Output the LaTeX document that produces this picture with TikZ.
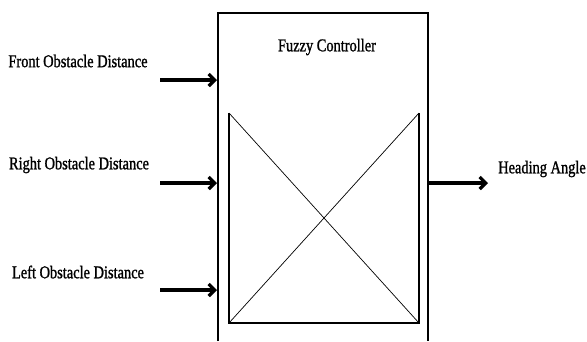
\documentclass[tikz,border=0pt]{standalone}
\usepackage{fontspec}
\setmainfont{Liberation Serif}[FakeStretch=0.8,FakeBold=1.2]
\usetikzlibrary{arrows.meta}

\begin{document}
\begin{tikzpicture}[x=1pt,y=-1pt,
		lbl/.style={font=\fontsize{18}{20}\selectfont,inner sep=0pt},
		inarrow/.style={line width=3.2pt,-{Straight Barb[length=6pt,width=12pt]}}]
	\useasboundingbox (0,0) rectangle (587,341);
	
	% Outer box
	\draw[line width=2pt] (218,341) -- (218,13) -- (428,13) -- (428,341);
	\node[lbl] (fuzzy) at (327,47) {Fuzzy Controller};
	
	% Inner box with cross
	\coordinate (tl) at (229,113);
	\coordinate (tr) at (419,113);
	\coordinate (bl) at (229,323);
	\coordinate (br) at (419,323);
	\draw[line width=2pt] (tl) -- (bl) -- (br) -- (tr);
	\draw[line width=0.7pt] (tl) -- (br);
	\draw[line width=0.7pt] (tr) -- (bl);
	
	% Inputs
	\node[lbl] (front) at (78,61) {Front Obstacle Distance};
	\node[lbl] (right) at (79,165) {Right Obstacle Distance};
	\node[lbl] (left) at (78,272) {Left Obstacle Distance};
	\coordinate (s1) at (160,80);
	\coordinate (e1) at (217,80);
	\coordinate (s2) at (160,183);
	\coordinate (e2) at (217,183);
	\coordinate (s3) at (160,290);
	\coordinate (e3) at (217,290);
	\draw[inarrow] (s1) -- (e1);
	\draw[inarrow] (s2) -- (e2);
	\draw[inarrow] (s3) -- (e3);
	
	% Output
	\node[lbl] (heading) at (542,169) {Heading Angle};
	\coordinate (s4) at (429,183);
	\coordinate (e4) at (488,183);
	\draw[inarrow] (s4) -- (e4);
\end{tikzpicture}
\end{document}
